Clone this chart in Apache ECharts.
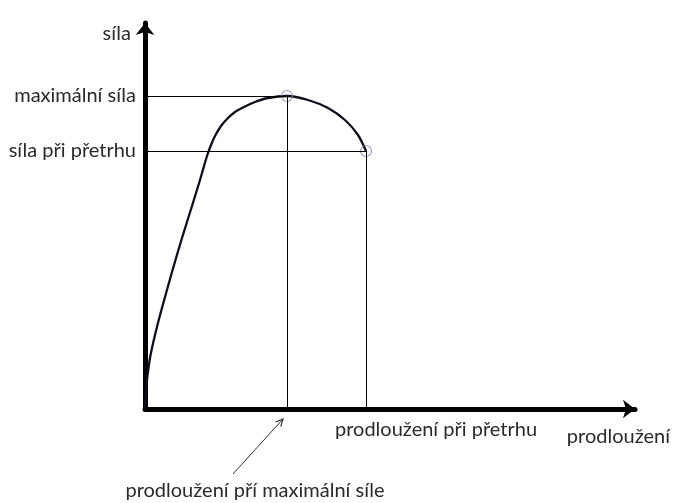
<!DOCTYPE html>
<html lang="cs">
<head>
<meta charset="UTF-8">
<title>síla / prodloužení</title>
<style>
  html, body { margin: 0; padding: 0; background: #fff; }
  #main { width: 675px; height: 503px; }
</style>
</head>
<body>
<div id="main"></div>
<script src="https://cdn.jsdelivr.net/npm/echarts@6/dist/echarts.min.js"></script>
<script>
// krivka sila / prodlouzeni (jednotky odpovidaji obrazku, 0 = pocatek)
var elongation = [0, 1, 2, 3.5, 5, 7, 10, 14, 20, 27, 37, 47, 55, 62, 66, 70, 76, 83, 90, 97, 110, 123, 142, 163, 183, 200, 213, 221];
var force      = [0, 16, 29, 41, 51, 61, 74, 90, 112, 137, 171, 203, 229, 253, 264, 273, 283, 291, 297, 301, 307, 311, 313, 309, 301, 289, 274, 258];

// vyznacne body: maximalni sila, pretrh
var keyElong = [142, 221];
var keyForce = [313, 258];

var forceTicks = [258, 313];
var forceTickLabels = ['síla při přetrhu', 'maximální síla'];
var elongTicks = [142, 221];
var elongTickLabels = ['prodloužení pří maximální síle', 'prodloužení při přetrhu'];

var xMax = 490, yMax = 386;

(function () {
    var chart = echarts.init(document.getElementById('main'));
    var font = 'Lato, "Open Sans", sans-serif';
    var textColor = '#2a2a2a';

    var keyPoints = keyElong.map(function (x, i) { return [x, keyForce[i]]; });
    var guideLines = [];
    keyPoints.forEach(function (p) {
        guideLines.push([{ coord: [0, p[1]] }, { coord: [p[0], p[1]] }]);
        guideLines.push([{ coord: [p[0], 0] }, { coord: [p[0], p[1]] }]);
    });

    var option = {
        animation: false,
        grid: { left: 145, right: 40, top: 23, bottom: 94 },
        xAxis: {
            type: 'value',
            min: 0,
            max: xMax,
            name: 'prodloužení',
            nameLocation: 'end',
            nameGap: 35,
            nameTextStyle: {
                color: textColor, fontFamily: font, fontSize: 20,
                align: 'right', verticalAlign: 'top', padding: [18, 0, 0, 0]
            },
            axisLine: {
                lineStyle: { color: '#000', width: 5 },
                symbol: ['none', 'arrow'],
                symbolSize: [14, 12]
            },
            axisTick: { show: false },
            splitLine: { show: false },
            axisLabel: {
                customValues: elongTicks,
                margin: 11,
                color: textColor,
                fontFamily: font,
                fontSize: 20,
                formatter: function (v) {
                    var i = elongTicks.indexOf(v);
                    return i === 0 ? '{a|' + elongTickLabels[0] + '}' : '{b|' + elongTickLabels[1] + '}';
                },
                rich: {
                    a: { fontFamily: font, fontSize: 20, color: textColor, padding: [61, 64, 0, 0] },
                    b: { fontFamily: font, fontSize: 20, color: textColor, padding: [0, 0, 0, 140] }
                }
            }
        },
        yAxis: {
            type: 'value',
            min: 0,
            max: yMax,
            name: 'síla',
            nameLocation: 'end',
            nameGap: 0,
            nameTextStyle: {
                color: textColor, fontFamily: font, fontSize: 20,
                align: 'right', verticalAlign: 'top', padding: [1, 14, 0, 0]
            },
            axisLine: {
                lineStyle: { color: '#000', width: 5 },
                symbol: ['none', 'arrow'],
                symbolSize: [14, 12]
            },
            axisTick: { show: false },
            splitLine: { show: false },
            axisLabel: {
                customValues: forceTicks,
                margin: 9,
                color: textColor,
                fontFamily: font,
                fontSize: 20,
                formatter: function (v) {
                    return forceTickLabels[forceTicks.indexOf(v)];
                }
            }
        },
        series: [{
            type: 'line',
            data: elongation.map(function (x, i) { return [x, force[i]]; }),
            smooth: 0.3,
            showSymbol: false,
            lineStyle: { color: '#0d0d1c', width: 2.3 },
            markLine: {
                silent: true,
                symbol: 'none',
                label: { show: false },
                lineStyle: { color: '#000', width: 1, type: 'solid' },
                data: guideLines
            },
            z: 3
        }, {
            type: 'scatter',
            data: keyPoints,
            symbol: 'circle',
            symbolSize: 11,
            itemStyle: { color: 'transparent', borderColor: '#8585bd', borderWidth: 1.2 },
            z: 4
        }]
    };

    chart.setOption(option);

    // sipka k popisku "prodlouzeni pri maximalni sile"
    var from = chart.convertToPixel({ gridIndex: 0 }, [88, -65]);
    var to = chart.convertToPixel({ gridIndex: 0 }, [138, -10]);
    var ang = Math.atan2(to[1] - from[1], to[0] - from[0]);
    var hl = 8, ha = 0.45;
    chart.setOption({
        graphic: [{
            type: 'line',
            shape: { x1: from[0], y1: from[1], x2: to[0], y2: to[1] },
            style: { stroke: '#333', lineWidth: 1 }
        }, {
            type: 'polyline',
            shape: {
                points: [
                    [to[0] - hl * Math.cos(ang - ha), to[1] - hl * Math.sin(ang - ha)],
                    to,
                    [to[0] - hl * Math.cos(ang + ha), to[1] - hl * Math.sin(ang + ha)]
                ]
            },
            style: { stroke: '#333', lineWidth: 1.2, fill: null }
        }]
    });
})();
</script>
</body>
</html>
